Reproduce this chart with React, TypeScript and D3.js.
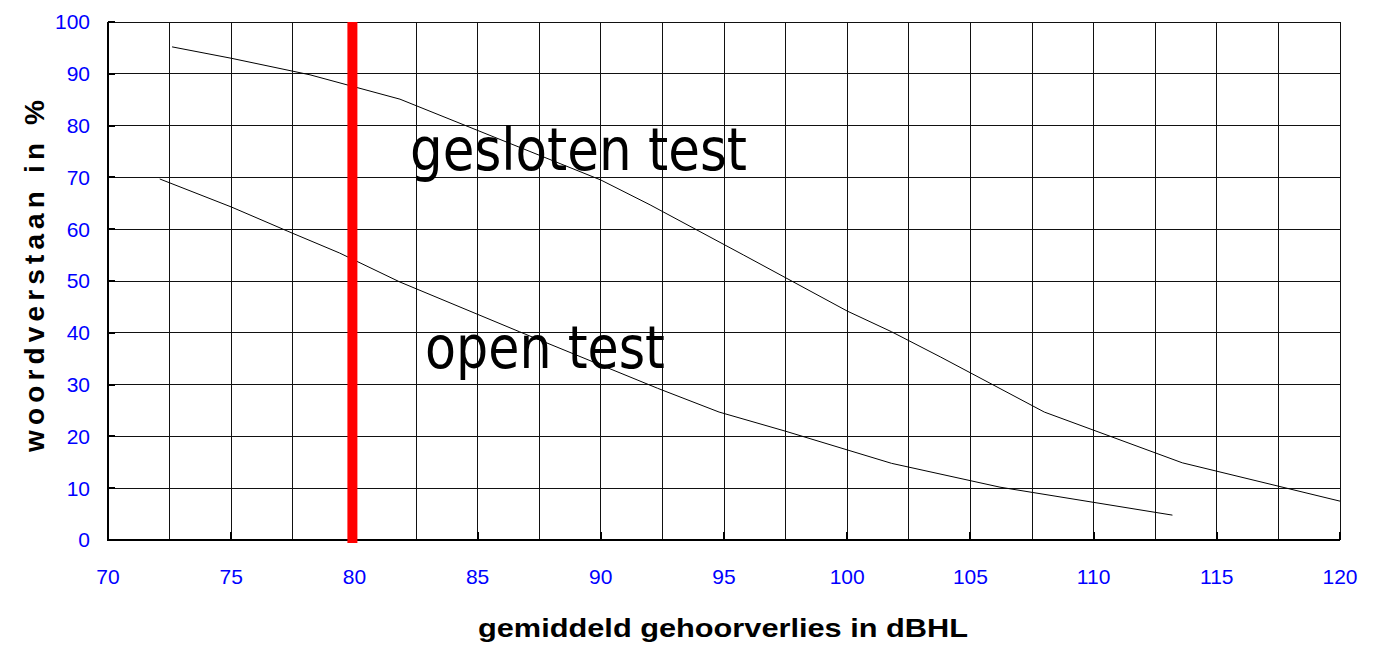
import React, { useEffect } from 'react';
import * as d3 from 'd3';

// hearing loss (dBHL) vs word recognition (%)
const geslotenX = [72.6, 75, 78.2, 81.85, 90, 92, 95.8, 100, 101.8, 103.8, 108, 113.6, 120];
const geslotenY = [95.2, 93, 89.8, 85.1, 69.5, 64.7, 55, 44.2, 40.2, 35.3, 24.7, 14.9, 7.5];
const openX = [72.1, 75, 77.3, 79.4, 81.85, 86.7, 92.3, 94.8, 97.5, 101.8, 106.2, 113.2];
const openY = [69.7, 64.3, 59.6, 55.4, 49.8, 40.2, 29.3, 24.7, 21, 14.8, 10.2, 4.8];

const xTicks = [70, 75, 80, 85, 90, 95, 100, 105, 110, 115, 120];
const xGrid = d3.range(70, 120.01, 2.5);
const yTicks = [0, 10, 20, 30, 40, 50, 60, 70, 80, 90, 100];
const markerX = 80;

const W = 1378;
const H = 646;

const App = () => {
    useEffect(() => {
        document.body.style.margin = '0';
    }, []);

    const x = d3.scaleLinear().domain([70, 120]).range([108, 1340]);
    const y = d3.scaleLinear().domain([0, 100]).range([540, 22]);

    const line = d3.line<[number, number]>()
        .x(d => x(d[0]))
        .y(d => y(d[1]));

    const gesloten = geslotenX.map((v, i) => [v, geslotenY[i]] as [number, number]);
    const open = openX.map((v, i) => [v, openY[i]] as [number, number]);

    const tickFont = 'Liberation Sans, Arial, sans-serif';

    return (
        <svg width={W} height={H} style={{ display: 'block', background: '#fff' }}>
            {/* grid */}
            <g stroke="#111" strokeWidth={1} shapeRendering="crispEdges">
                {xGrid.map(v => (
                    <line key={'gx' + v} x1={x(v)} x2={x(v)} y1={y(100)} y2={y(0)} />
                ))}
                {yTicks.map(v => (
                    <line key={'gy' + v} x1={x(70)} x2={x(120)} y1={y(v)} y2={y(v)} />
                ))}
            </g>

            {/* axes */}
            <g stroke="#000" strokeWidth={2} shapeRendering="crispEdges">
                <line x1={x(70)} x2={x(70)} y1={y(100)} y2={y(0) + 1} />
                <line x1={x(70)} x2={x(120)} y1={y(0)} y2={y(0)} />
                {xTicks.map(v => (
                    <line key={'tx' + v} x1={x(v)} x2={x(v)} y1={y(0)} y2={y(0) - 8} />
                ))}
                {yTicks.map(v => (
                    <line key={'ty' + v} x1={x(70)} x2={x(70) + 7} y1={y(v)} y2={y(v)} />
                ))}
            </g>

            {/* curves */}
            <path d={line(gesloten) || ''} fill="none" stroke="#000" strokeWidth={1} />
            <path d={line(open) || ''} fill="none" stroke="#000" strokeWidth={1} />

            {/* 80 dB marker */}
            <line x1={x(markerX) - 2} x2={x(markerX) - 2} y1={y(100)} y2={y(0) + 3}
                stroke="#ff0000" strokeWidth={10} />

            {/* curve labels */}
            <text x={410} y={170} fontFamily="DejaVu Sans, sans-serif" fontSize={58}
                textLength={337} lengthAdjust="spacingAndGlyphs" fill="#000">gesloten test</text>
            <text x={425} y={368} fontFamily="DejaVu Sans, sans-serif" fontSize={58}
                textLength={240} lengthAdjust="spacingAndGlyphs" fill="#000">open test</text>

            {/* tick labels */}
            <g fill="#0000ff" fontFamily={tickFont} fontSize={21}>
                {yTicks.map(v => (
                    <text key={'ly' + v} x={90} y={y(v)} dy="0.35em" textAnchor="end">{v}</text>
                ))}
                {xTicks.map(v => (
                    <text key={'lx' + v} x={x(v)} y={577} dy="0.35em" textAnchor="middle">{v}</text>
                ))}
            </g>

            {/* axis titles */}
            <text x={723} y={637} textAnchor="middle" fontFamily={tickFont} fontWeight="bold"
                fontSize={25} textLength={490} lengthAdjust="spacingAndGlyphs" fill="#000">
                gemiddeld gehoorverlies in dBHL
            </text>
            <text transform="translate(44,276) rotate(-90)" textAnchor="middle" fontFamily={tickFont}
                fontWeight="bold" fontSize={28} textLength={352} lengthAdjust="spacing" fill="#000">
                woordverstaan in %
            </text>
        </svg>
    );
};

export default App;
